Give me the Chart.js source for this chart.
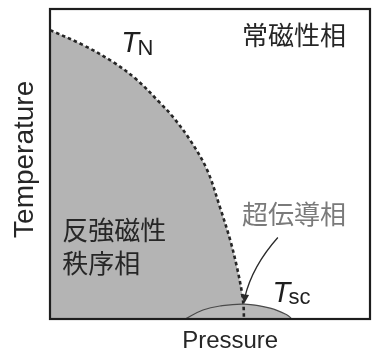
<!DOCTYPE html>
<html>
<head>
<meta charset="utf-8">
<script src="https://cdn.jsdelivr.net/npm/chart.js@4/dist/chart.umd.min.js"></script>
<style>
  html, body { margin: 0; padding: 0; background: #ffffff; }
  #wrap { width: 372px; height: 353px; }
</style>
</head>
<body>
<div id="wrap"><canvas id="c" width="372" height="353"></canvas></div>
<script>
// Néel temperature boundary T_N(P) (arbitrary units, 0-100)
const tnPressure    = [0, 10.3, 19.7, 27.2, 34.4, 38.4, 43.8, 49.1, 53.1, 56.3, 58.4, 60.0, 60.5, 60.6];
const tnTemperature = [93.2, 88.4, 82.9, 77.1, 69.7, 65.2, 57.7, 48.1, 36.1, 25.5, 16.8, 8.4, 3.9, 0];

// Superconducting dome T_sc(P)
const scPressure    = [42.2, 47.8, 53.1, 60.8, 68.8, 74.1, 75.6];
const scTemperature = [0, 2.9, 4.2, 4.8, 3.5, 1.3, 0];

const axisTitles = { x: 'Pressure', y: 'Temperature' };

const toPoints = (xs, ys) => xs.map((x, i) => ({ x: x, y: ys[i] }));

const CJK = '"Noto Sans CJK JP", "Noto Sans CJK SC", sans-serif';
const LATIN = '"Liberation Sans", Arial, sans-serif';

// Frame, axis titles, phase names, T labels and the arrow to the dome
const phaseLabels = {
  id: 'phaseLabels',
  afterDatasetsDraw(chart) {
    const { ctx, chartArea: a, scales: { x, y } } = chart;
    const px = v => x.getPixelForValue(v);
    const py = v => y.getPixelForValue(v);
    ctx.save();

    // full frame around the plot
    ctx.strokeStyle = '#1e1e1e';
    ctx.lineWidth = 2.2;
    ctx.strokeRect(a.left, a.top, a.right - a.left, a.bottom - a.top);

    // axis titles
    ctx.fillStyle = '#262626';
    ctx.textAlign = 'center';
    ctx.textBaseline = 'middle';
    ctx.font = '24px ' + LATIN;
    ctx.fillText(axisTitles.x, px(56.3), a.bottom + 22);
    ctx.save();
    ctx.translate(a.left - 25, py(51.5));
    ctx.rotate(-Math.PI / 2);
    ctx.font = '28px ' + LATIN;
    ctx.fillText(axisTitles.y, 0, 0);
    ctx.restore();

    // Japanese phase names
    ctx.textBaseline = 'middle';
    ctx.textAlign = 'left';
    ctx.font = '26px ' + CJK;
    ctx.fillStyle = '#262626';
    ctx.fillText('常磁性相', px(60), py(91.5));
    ctx.fillText('反強磁性', px(3.8), py(28.7));
    ctx.fillText('秩序相', px(3.8), py(18.1));
    ctx.fillStyle = '#7a7a7a';
    ctx.fillText('超伝導相', px(60), py(33.9));

    // T with subscript
    const tLabel = (sub, lx, ly, dy) => {
      ctx.textBaseline = 'alphabetic';
      ctx.fillStyle = '#1e1e1e';
      ctx.font = 'italic 29px ' + LATIN;
      ctx.fillText('T', lx, ly);
      const w = ctx.measureText('T').width;
      ctx.font = '22px ' + LATIN;
      ctx.fillText(sub, lx + w - 1.5, ly + dy);
    };
    tLabel('N', px(22.3), py(86.1), 3);
    tLabel('sc', px(69.5), py(5.5), 2);

    // curved arrow pointing at the top of the dome
    const peak = scTemperature.indexOf(Math.max(...scTemperature));
    const tipX = px(scPressure[peak]);
    const tipY = py(scTemperature[peak]) - 1;
    const sx = px(71.2), sy = py(26.3);
    const cx = px(63.2), cy = py(17.0);
    ctx.strokeStyle = '#2a2a2a';
    ctx.lineWidth = 1.3;
    ctx.beginPath();
    ctx.moveTo(sx, sy);
    ctx.quadraticCurveTo(cx, cy, tipX + 0.3, tipY - 6);
    ctx.stroke();
    ctx.fillStyle = '#2a2a2a';
    ctx.beginPath();
    ctx.moveTo(tipX, tipY);
    ctx.lineTo(tipX - 4, tipY - 9);
    ctx.lineTo(tipX + 4.5, tipY - 8);
    ctx.closePath();
    ctx.fill();

    ctx.restore();
  }
};

new Chart(document.getElementById('c'), {
  type: 'scatter',
  data: {
    datasets: [
      {
        // antiferromagnetic region fill
        data: toPoints(tnPressure, tnTemperature),
        showLine: true,
        fill: 'origin',
        backgroundColor: '#b4b4b4',
        borderWidth: 0,
        borderColor: 'rgba(0,0,0,0)',
        pointRadius: 0,
        tension: 0.35,
        order: 3
      },
      {
        // superconducting dome
        data: toPoints(scPressure, scTemperature),
        showLine: true,
        fill: 'origin',
        backgroundColor: '#b8b8b8',
        borderColor: '#4a4a4a',
        borderWidth: 1.2,
        pointRadius: 0,
        tension: 0.4,
        order: 2
      },
      {
        // T_N line
        data: toPoints(tnPressure, tnTemperature),
        showLine: true,
        fill: false,
        borderColor: '#262626',
        borderWidth: 2.6,
        borderDash: [3.5, 3],
        pointRadius: 0,
        tension: 0.35,
        order: 1
      }
    ]
  },
  options: {
    responsive: false,
    animation: false,
    devicePixelRatio: 1,
    layout: { padding: { top: 9, right: 2, left: 50, bottom: 34 } },
    plugins: { legend: { display: false }, tooltip: { enabled: false } },
    scales: {
      x: {
        type: 'linear', min: 0, max: 100,
        grid: { display: false, drawTicks: false },
        border: { display: false },
        ticks: { display: false }
      },
      y: {
        type: 'linear', min: 0, max: 100,
        grid: { display: false, drawTicks: false },
        border: { display: false },
        ticks: { display: false }
      }
    }
  },
  plugins: [phaseLabels]
});
</script>
</body>
</html>
